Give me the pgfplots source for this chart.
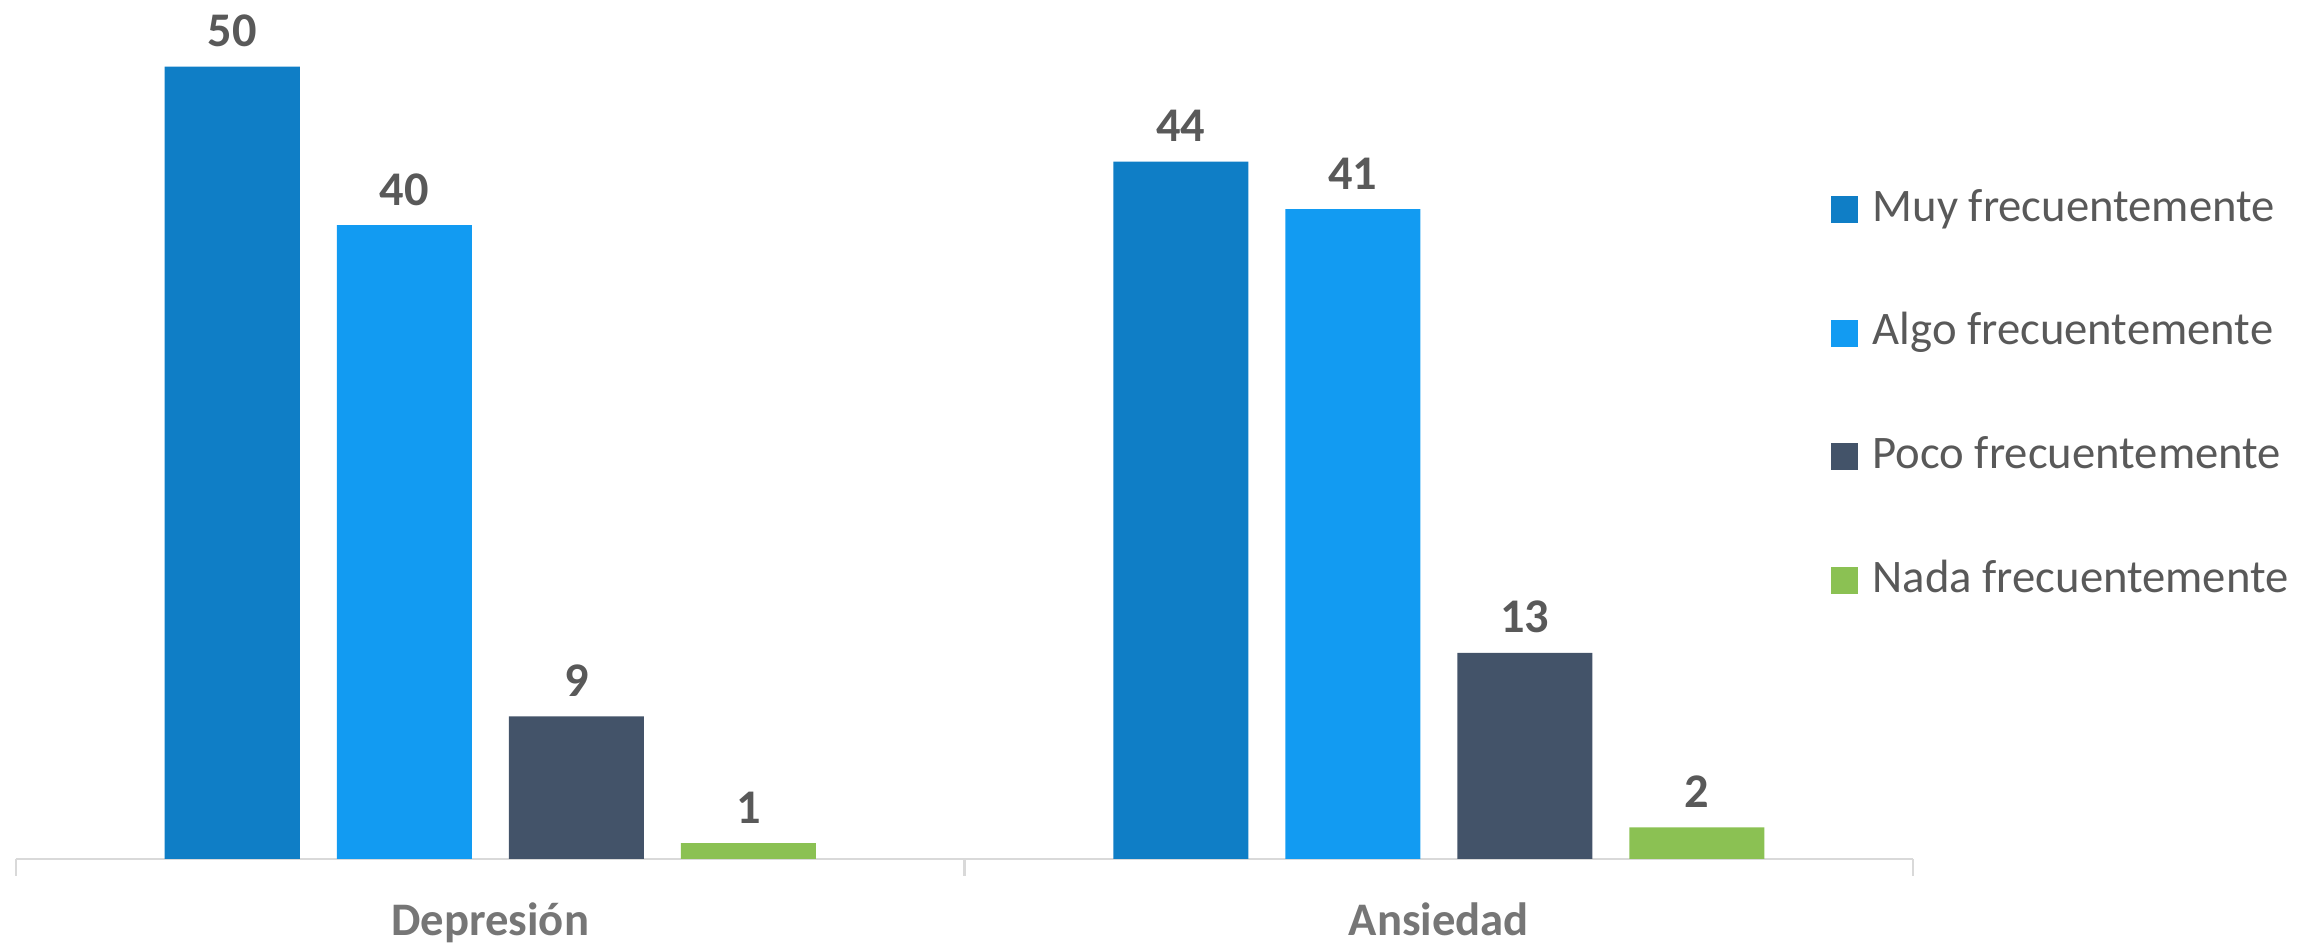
\documentclass[border=0pt]{standalone}
\usepackage{pgfplots}
\pgfplotsset{compat=1.18}
\usepackage{fontspec}
\setmainfont{Carlito}
\definecolor{cMuy}{HTML}{0F7EC6}
\definecolor{cAlgo}{HTML}{129BF2}
\definecolor{cPoco}{HTML}{435369}
\definecolor{cNada}{HTML}{8BC153}
\definecolor{txt}{HTML}{595959}
\definecolor{cat}{HTML}{767676}
\definecolor{axl}{HTML}{D9D9D9}
\begin{document}
\begin{tikzpicture}
\begin{axis}[
  scale only axis, width=569.1pt, height=257.7pt,
  xmin=-0.5, xmax=1.5, ymin=0, ymax=54.2,
  ybar=11.1pt, bar width=40.5pt,
  axis x line*=bottom, axis y line=none,
  x axis line style={draw=axl, line width=0.8pt, -},
  xtick={0,1}, xticklabels={Depresión, Ansiedad},
  tick align=outside,
  major tick length=0pt,
  /pgf/number format/assume math mode=true,
  xticklabel style={font=\fontsize{14}{16}\selectfont\bfseries, text=cat, anchor=base, yshift=-23pt},
  extra x ticks={-0.5,0.5,1.5}, extra x tick labels={},
  extra x tick style={major tick length=5pt, tick style={draw=axl, line width=0.8pt}},
  nodes near coords,
  every node near coord/.append style={font=\fontsize{14.5}{16}\selectfont\bfseries, text=txt, anchor=base, yshift=6pt},
  legend style={draw=none, fill=none, at={(0.951,0.5400)}, anchor=west,
    font=\fontsize{14}{16}\selectfont, text=txt, row sep=24.1pt,
    nodes={inner sep=0pt, text height=10pt, text depth=3pt},
    /tikz/every odd column/.append style={column sep=4.5pt}},
  legend cell align=left,
  legend image code/.code={\fill[#1, draw=none] (0pt,-4.05pt) rectangle (8.1pt,4.05pt);},
]
\addplot[fill=cMuy, draw=none] coordinates {(0,50) (1,44)};
\addplot[fill=cAlgo, draw=none] coordinates {(0,40) (1,41)};
\addplot[fill=cPoco, draw=none] coordinates {(0,9) (1,13)};
\addplot[fill=cNada, draw=none] coordinates {(0,1) (1,2)};
\legend{Muy frecuentemente, Algo frecuentemente, Poco frecuentemente, Nada frecuentemente}
\end{axis}
\pgfresetboundingbox
\path[use as bounding box] ([xshift=-4.8pt,yshift=-26.1pt]current axis.south west) rectangle ++(696.9pt,283.8pt);
\end{tikzpicture}
\end{document}
